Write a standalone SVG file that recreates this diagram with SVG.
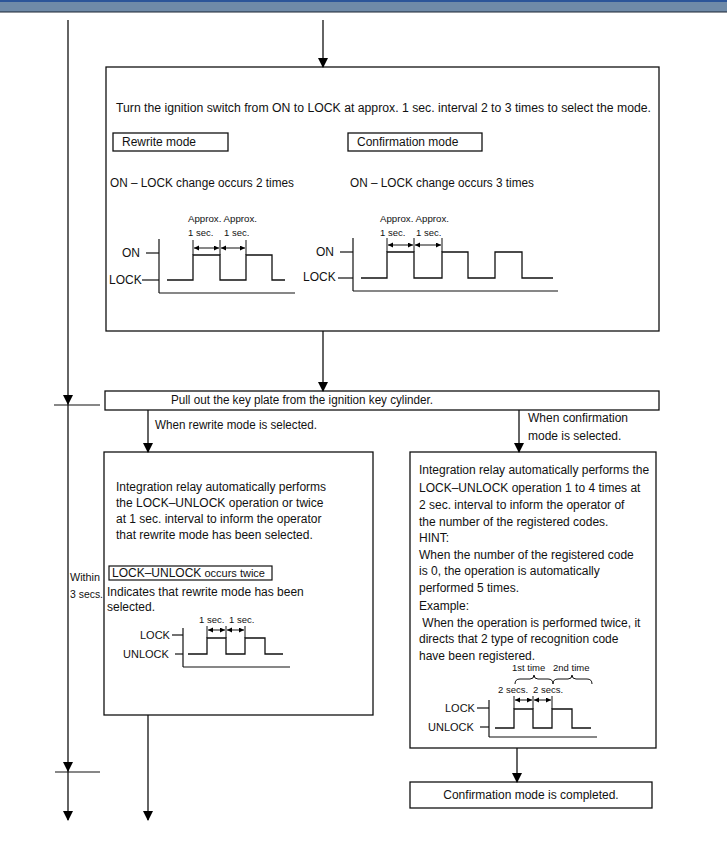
<svg xmlns="http://www.w3.org/2000/svg" width="727" height="865" viewBox="0 0 727 865">
<defs>
<marker id="ah" markerUnits="userSpaceOnUse" markerWidth="10" markerHeight="12" refX="9" refY="5" orient="auto"><path d="M0,0 L10,5 L0,10 z" fill="#000"/></marker>
<marker id="dh" markerUnits="userSpaceOnUse" markerWidth="6" markerHeight="6" refX="5" refY="2.5" orient="auto-start-reverse"><path d="M0,0 L5,2.5 L0,5 z" fill="#000"/></marker>
<style>
.t{font-family:"Liberation Sans",Arial,sans-serif;font-size:12px;fill:#111}
.l{font-family:"Liberation Sans",Arial,sans-serif;font-size:11px;fill:#111}
.s{font-family:"Liberation Sans",Arial,sans-serif;font-size:9.5px;fill:#111}
.box{fill:#fff;stroke:#111;stroke-width:1.3}
.ln{fill:none;stroke:#111;stroke-width:1.2}
.w{fill:none;stroke:#111;stroke-width:1.3}
.dim{fill:none;stroke:#111;stroke-width:1}
.con{fill:none;stroke:#111;stroke-width:1.3}
</style>
</defs>
<rect width="727" height="865" fill="#fff"/>
<g id="header">
<rect x="0" y="0" width="727" height="12" fill="#6f8aa8"/>
<rect x="0" y="0" width="727" height="2" fill="#2c5599"/>
<line x1="0" y1="12" x2="727" y2="12" stroke="#1b2533" stroke-width="1"/>
</g>
<g id="select-mode">
<rect class="box" x="106" y="67" width="553" height="264"/>
<text class="t" x="116" y="112" textLength="535" lengthAdjust="spacingAndGlyphs">Turn the ignition switch from ON to LOCK at approx. 1 sec. interval 2 to 3 times to select the mode.</text>
<rect class="box" x="113" y="133" width="115" height="18"/>
<text class="t" x="122" y="146">Rewrite mode</text>
<rect class="box" x="348" y="133" width="134" height="18"/>
<text class="t" x="357" y="146">Confirmation mode</text>
<text class="t" x="110" y="187" textLength="184" lengthAdjust="spacingAndGlyphs">ON – LOCK change occurs 2 times</text>
<text class="t" x="350" y="187" textLength="184" lengthAdjust="spacingAndGlyphs">ON – LOCK change occurs 3 times</text>
<text class="s" x="188" y="222" textLength="69" lengthAdjust="spacingAndGlyphs">Approx. Approx.</text>
<text class="s" x="188" y="236">1 sec.</text>
<text class="s" x="224" y="236">1 sec.</text>
<line class="dim" x1="193" y1="240" x2="193" y2="255"/>
<line class="dim" x1="220" y1="240" x2="220" y2="255"/>
<line class="dim" x1="246" y1="240" x2="246" y2="255"/>
<line class="dim" x1="194" y1="248" x2="219" y2="248" marker-start="url(#dh)" marker-end="url(#dh)"/>
<line class="dim" x1="221" y1="248" x2="245" y2="248" marker-start="url(#dh)" marker-end="url(#dh)"/>
<text class="t" x="122" y="257">ON</text>
<text class="t" x="109" y="284">LOCK</text>
<line class="ln" x1="146" y1="253" x2="159" y2="253"/>
<line class="ln" x1="142" y1="280" x2="159" y2="280"/>
<line class="ln" x1="159" y1="239" x2="159" y2="293"/>
<line class="ln" x1="159" y1="293" x2="295" y2="293"/>
<polyline class="w" points="167,280 193,280 193,255 220,255 220,280 246,280 246,255 272,255 272,280 285,280"/>
<text class="s" x="380" y="222" textLength="69" lengthAdjust="spacingAndGlyphs">Approx. Approx.</text>
<text class="s" x="380" y="236">1 sec.</text>
<text class="s" x="416" y="236">1 sec.</text>
<line class="dim" x1="387" y1="238" x2="387" y2="252"/>
<line class="dim" x1="414" y1="238" x2="414" y2="252"/>
<line class="dim" x1="442" y1="238" x2="442" y2="252"/>
<line class="dim" x1="388" y1="245" x2="413" y2="245" marker-start="url(#dh)" marker-end="url(#dh)"/>
<line class="dim" x1="415" y1="245" x2="441" y2="245" marker-start="url(#dh)" marker-end="url(#dh)"/>
<text class="t" x="316" y="256">ON</text>
<text class="t" x="303" y="281">LOCK</text>
<line class="ln" x1="340" y1="252" x2="353" y2="252"/>
<line class="ln" x1="338" y1="278" x2="353" y2="278"/>
<line class="ln" x1="353" y1="238" x2="353" y2="291"/>
<line class="ln" x1="353" y1="291" x2="558" y2="291"/>
<polyline class="w" points="361,278 387,278 387,252 414,252 414,278 442,278 442,252 468,252 468,278 495,278 495,252 522,252 522,278 553,278"/>
</g>
<g id="pull-out">
<rect class="box" x="105" y="391" width="554" height="19"/>
<text class="t" x="171" y="404" textLength="262" lengthAdjust="spacingAndGlyphs">Pull out the key plate from the ignition key cylinder.</text>
</g>
<g id="rewrite-mode">
<rect class="box" x="104" y="452" width="269" height="263"/>
<text class="t" x="116" y="491">Integration relay automatically performs</text>
<text class="t" x="116" y="507">the LOCK–UNLOCK operation or twice</text>
<text class="t" x="116" y="523">at 1 sec. interval to inform the operator</text>
<text class="t" x="116" y="539">that rewrite mode has been selected.</text>
<rect x="109" y="566" width="163" height="14" fill="none" stroke="#111" stroke-width="1.2"/>
<text x="112" y="577" font-family="Liberation Sans, Arial, sans-serif" fill="#111"><tspan font-size="12">LOCK–UNLOCK</tspan><tspan font-size="11"> occurs twice</tspan></text>
<text class="t" x="107" y="596">Indicates that rewrite mode has been</text>
<text class="t" x="107" y="611">selected.</text>
<text class="s" x="199" y="623">1 sec.</text>
<text class="s" x="229" y="623">1 sec.</text>
<line class="dim" x1="207" y1="626" x2="207" y2="638"/>
<line class="dim" x1="226" y1="626" x2="226" y2="638"/>
<line class="dim" x1="245" y1="626" x2="245" y2="638"/>
<line class="dim" x1="208" y1="630" x2="225" y2="630" marker-start="url(#dh)" marker-end="url(#dh)"/>
<line class="dim" x1="227" y1="630" x2="244" y2="630" marker-start="url(#dh)" marker-end="url(#dh)"/>
<text class="l" x="140" y="639">LOCK</text>
<text class="l" x="123" y="658">UNLOCK</text>
<line class="ln" x1="172" y1="635" x2="183" y2="635"/>
<line class="ln" x1="175" y1="654" x2="183" y2="654"/>
<line class="ln" x1="183" y1="628" x2="183" y2="667"/>
<line class="ln" x1="183" y1="667" x2="290" y2="667"/>
<polyline class="w" points="188,654 207,654 207,638 226,638 226,654 245,654 245,638 265,638 265,654 283,654"/>
</g>
<g id="confirmation-mode">
<rect class="box" x="410" y="452" width="246" height="296"/>
<text class="t" x="419" y="474">Integration relay automatically performs the</text>
<text class="t" x="419" y="492">LOCK–UNLOCK operation 1 to 4 times at</text>
<text class="t" x="419" y="509">2 sec. interval to inform the operator of</text>
<text class="t" x="419" y="526">the number of the registered codes.</text>
<text class="t" x="419" y="542">HINT:</text>
<text class="t" x="419" y="559">When the number of the registered code</text>
<text class="t" x="419" y="575">is 0, the operation is automatically</text>
<text class="t" x="419" y="592">performed 5 times.</text>
<text class="t" x="419" y="610">Example:</text>
<text class="t" x="419" y="627" xml:space="preserve"> When the operation is performed twice, it</text>
<text class="t" x="419" y="643">directs that 2 type of recognition code</text>
<text class="t" x="419" y="660">have been registered.</text>
<text class="s" x="512" y="671">1st time</text>
<text class="s" x="553" y="671">2nd time</text>
<path class="dim" d="M515,684 Q515,679 520,679 L530,679 Q534,679 534,675 Q534,679 538,679 L548,679 Q553,679 553,684"/>
<path class="dim" d="M553,684 Q553,679 558,679 L568,679 Q572,679 572,675 Q572,679 576,679 L587,679 Q592,679 592,684"/>
<text class="s" x="498" y="693">2 secs.</text>
<text class="s" x="533" y="693">2 secs.</text>
<line class="dim" x1="514" y1="696" x2="514" y2="709"/>
<line class="dim" x1="533" y1="696" x2="533" y2="709"/>
<line class="dim" x1="552" y1="696" x2="552" y2="709"/>
<line class="dim" x1="515" y1="700" x2="532" y2="700" marker-start="url(#dh)" marker-end="url(#dh)"/>
<line class="dim" x1="534" y1="700" x2="551" y2="700" marker-start="url(#dh)" marker-end="url(#dh)"/>
<text class="l" x="445" y="712">LOCK</text>
<text class="l" x="428" y="731">UNLOCK</text>
<line class="ln" x1="477" y1="708" x2="489" y2="708"/>
<line class="ln" x1="480" y1="727" x2="489" y2="727"/>
<line class="ln" x1="489" y1="700" x2="489" y2="737"/>
<line class="ln" x1="489" y1="737" x2="597" y2="737"/>
<polyline class="w" points="495,728 514,728 514,709 533,709 533,728 552,728 552,709 572,709 572,728 591,728"/>
</g>
<g id="completed">
<rect class="box" x="410" y="782" width="242" height="26"/>
<text class="t" x="531" y="799" text-anchor="middle">Confirmation mode is completed.</text>
</g>
<g id="connectors">
<line class="con" x1="68" y1="20" x2="68" y2="404" marker-end="url(#ah)"/>
<line class="con" x1="68" y1="404" x2="68" y2="771" marker-end="url(#ah)"/>
<line class="con" x1="68" y1="771" x2="68" y2="820" marker-end="url(#ah)"/>
<line class="ln" x1="54" y1="405" x2="100" y2="405"/>
<line class="ln" x1="55" y1="772" x2="100" y2="772"/>
<line class="con" x1="323" y1="20" x2="323" y2="67" marker-end="url(#ah)"/>
<line class="con" x1="323" y1="331" x2="323" y2="391" marker-end="url(#ah)"/>
<line class="con" x1="148" y1="410" x2="148" y2="452" marker-end="url(#ah)"/>
<line class="con" x1="519" y1="410" x2="519" y2="452" marker-end="url(#ah)"/>
<line class="con" x1="517" y1="748" x2="517" y2="782" marker-end="url(#ah)"/>
<line class="con" x1="148" y1="715" x2="148" y2="820" marker-end="url(#ah)"/>
<text class="t" x="155" y="429" textLength="162" lengthAdjust="spacingAndGlyphs">When rewrite mode is selected.</text>
<text class="t" x="528" y="422">When confirmation</text>
<text class="t" x="528" y="440">mode is selected.</text>
<text class="l" x="70" y="581" textLength="30" lengthAdjust="spacingAndGlyphs">Within</text>
<text class="l" x="70" y="598" textLength="33" lengthAdjust="spacingAndGlyphs">3 secs.</text>
</g>
</svg>
